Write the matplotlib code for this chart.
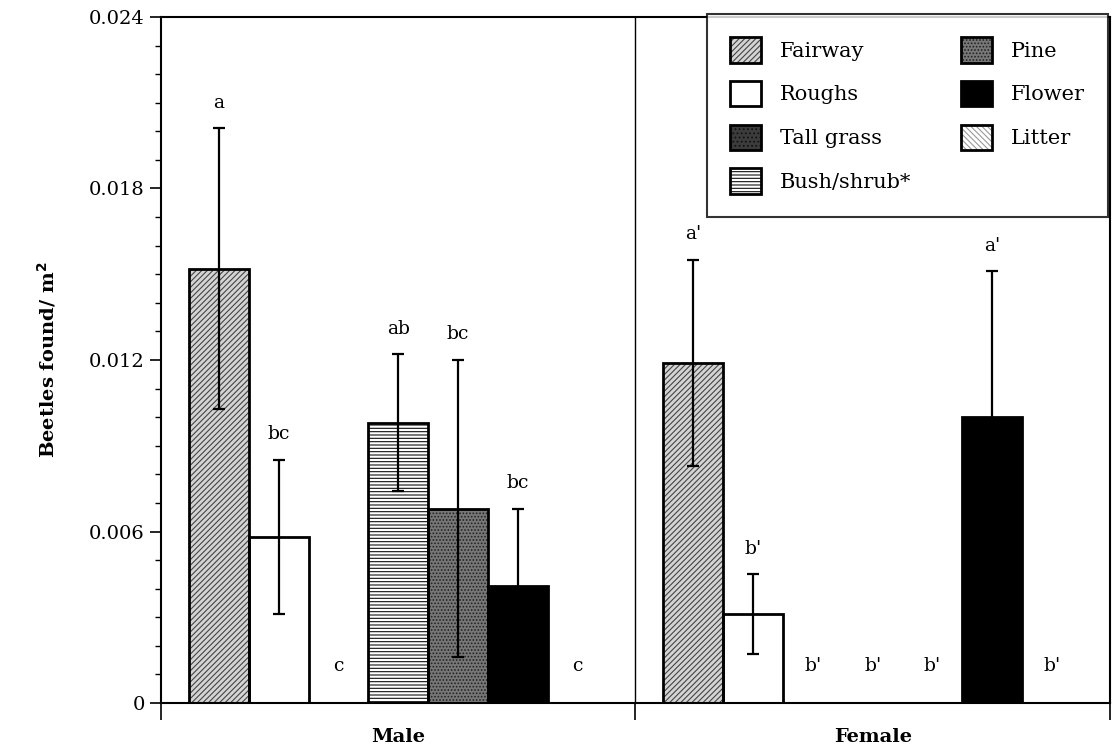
import numpy as np
import matplotlib
matplotlib.use('Agg')
import matplotlib.pyplot as plt
from matplotlib.patches import Patch

# values
groups = ['Male', 'Female']
habitats = ['Fairway', 'Roughs', 'Tall grass', 'Bush/shrub*', 'Pine', 'Flower', 'Litter']
male_mean = [0.0152, 0.0058, 0.0, 0.0098, 0.0068, 0.0041, 0.0]
male_err = [0.0049, 0.0027, 0.0, 0.0024, 0.0052, 0.0027, 0.0]
female_mean = [0.0119, 0.0031, 0.0, 0.0, 0.0, 0.0100, 0.0]
female_err = [0.0036, 0.0014, 0.0, 0.0, 0.0, 0.0051, 0.0]
male_letters = ['a', 'bc', 'c', 'ab', 'bc', 'bc', 'c']
female_letters = ["a'", "b'", "b'", "b'", "b'", "a'", "b'"]
yticks = [0, 0.006, 0.012, 0.018, 0.024]
yticklabels = ['0', '0.006', '0.012', '0.018', '0.024']

# fill, hatch, hatch colour per habitat
styles = {
    'Fairway': ('#d4d4d4', '//////', '#444444'),
    'Roughs': ('white', '', 'white'),
    'Tall grass': ('#3c3c3c', '....', '#111111'),
    'Bush/shrub*': ('white', '-----', '#111111'),
    'Pine': ('#777777', '.....', '#222222'),
    'Flower': ('black', '', 'black'),
    'Litter': ('white', '\\\\\\\\\\\\', '#9a9a9a'),
}

plt.rcParams['font.family'] = ['DejaVu Serif']
plt.rcParams['hatch.linewidth'] = 0.8

fig = plt.figure(figsize=(11.17, 7.51), dpi=100)
ax = fig.add_axes([0.1441, 0.0639, 0.8496, 0.9135])

w = 0.126
offs = (np.arange(len(habitats)) - 3) * w

for g, (means, errs, letters) in enumerate([(male_mean, male_err, male_letters),
                                            (female_mean, female_err, female_letters)]):
    xs = g + 0.5 + offs
    for i, h in enumerate(habitats):
        fc, hatch, hc = styles[h]
        m = means[i]
        if m > 0:
            ax.bar(xs[i], m, w, color=fc, hatch=hatch, edgecolor=hc, linewidth=0, zorder=2)
            ax.bar(xs[i], m, w, fill=False, edgecolor='black', linewidth=2, zorder=3)
            ax.errorbar(xs[i], m, yerr=errs[i], fmt='none', ecolor='black',
                        elinewidth=1.6, capsize=4, capthick=1.6, zorder=4)
            ty = m + errs[i] + 0.0009
        else:
            ty = 0.0013
        ax.text(xs[i], ty, letters[i], ha='center', va='center', fontsize=13.5)

handles = []
for h in habitats:
    fc, hatch, hc = styles[h]
    p1 = Patch(facecolor=fc, hatch=hatch, edgecolor=hc, linewidth=0)
    p2 = Patch(fill=False, edgecolor='black', linewidth=2)
    handles.append((p1, p2))

leg = ax.legend(handles, habitats, ncol=2, loc='upper right', bbox_to_anchor=(0.998, 1.004),
                borderaxespad=0, fontsize=15, frameon=True, fancybox=False, edgecolor='black',
                handlelength=1.5, handleheight=1.5, borderpad=1.1, labelspacing=0.88,
                columnspacing=2.4, handletextpad=0.9)
leg.get_frame().set_linewidth(1.5)
leg.set_zorder(6)

ax.axvline(1, color='black', linewidth=1, zorder=1)

ax.set_xlim(0, 2)
ax.set_ylim(0, 0.024)
ax.set_xticks([0, 1, 2])
ax.set_xticklabels([])
ax.tick_params(axis='x', direction='out', length=12, width=1.2)
ax.set_yticks(yticks)
ax.set_yticklabels(yticklabels)
ax.set_yticks(np.arange(0, 0.0241, 0.001), minor=True)
ax.tick_params(axis='y', which='major', direction='out', length=8, width=1.2, labelsize=14)
ax.tick_params(axis='y', which='minor', direction='out', length=4, width=1)
for s in ax.spines.values():
    s.set_linewidth(1.5)

for g, name in enumerate(groups):
    ax.text(g + 0.5, -0.0012, name, ha='center', va='center',
            fontsize=14, fontweight='bold')

ax.set_ylabel('Beetles found/ m$^\\mathbf{2}$', fontsize=14, fontweight='bold', labelpad=22)

fig.savefig('out.png', dpi=100)
